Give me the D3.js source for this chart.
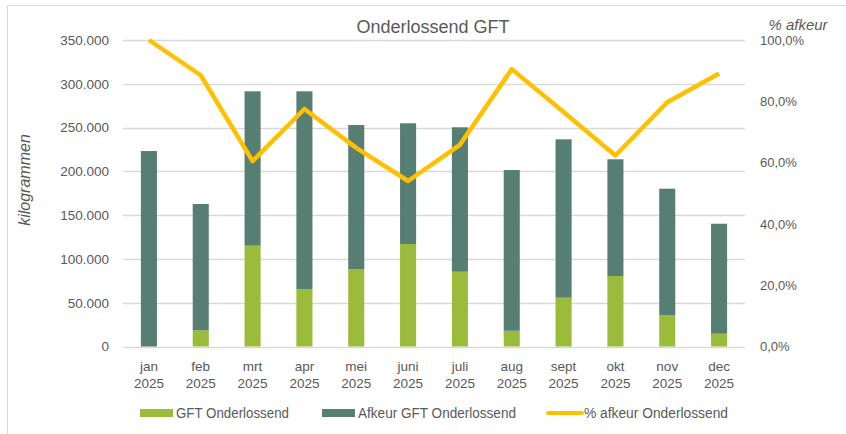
<!DOCTYPE html>
<html>
<head>
<meta charset="utf-8">
<script src="https://cdn.jsdelivr.net/npm/d3@7"></script>
<style>
  html, body { margin: 0; padding: 0; background: #fff; }
  svg { display: block; font-family: "Liberation Sans", "DejaVu Sans", sans-serif; }
</style>
</head>
<body>
<svg id="chart" width="846" height="434"></svg>
<script>
// Monthly data, 2025
const months = ["jan", "feb", "mrt", "apr", "mei", "juni", "juli", "aug", "sept", "okt", "nov", "dec"];
const year = "2025";
const gft = [0, 18500, 115100, 65700, 88500, 117000, 85400, 18000, 55700, 80500, 36000, 14600];
const afkeur = [223200, 144200, 176300, 225700, 164400, 137900, 164900, 183500, 180900, 133300, 144200, 125600];
const pctAfkeur = [1.0, 0.885, 0.605, 0.775, 0.648, 0.540, 0.658, 0.905, 0.765, 0.623, 0.797, 0.891];
const leftTicks = [0, 50000, 100000, 150000, 200000, 250000, 300000, 350000];
const rightTicks = [0, 0.2, 0.4, 0.6, 0.8, 1.0];

const colGft = "#9BBB3B";
const colAfkeur = "#577E72";
const colLine = "#FFC000";
const txt = "#595959";

const svg = d3.select("#chart");

// outer frame
svg.append("rect").attr("x", 7.5).attr("y", 5.5).attr("width", 860).attr("height", 460)
  .attr("fill", "none").attr("stroke", "#d9d9d9").attr("stroke-width", 1);

const plotLeft = 123, plotRight = 745, plotTop = 40, plotBottom = 346.5;

const x = d3.scaleBand().domain(months).range([plotLeft, plotRight]).paddingInner(0.69).paddingOuter(0.345);
const y = d3.scaleLinear().domain([0, 350000]).range([plotBottom, plotTop]);
const y2 = d3.scaleLinear().domain([0, 1]).range([plotBottom, plotTop]);

const fmtNum = v => d3.format(",")(v).replace(/,/g, ".");
const fmtPct = v => d3.format(".1f")(v * 100).replace(".", ",") + "%";

// gridlines
svg.append("g").selectAll("line").data(leftTicks).join("line")
  .attr("x1", plotLeft).attr("x2", plotRight)
  .attr("y1", d => Math.round(y(d)) + 0.5).attr("y2", d => Math.round(y(d)) + 0.5)
  .attr("stroke", "#d9d9d9").attr("stroke-width", 1.5);

// left axis
const gL = svg.append("g").attr("transform", `translate(${plotLeft - 14},0)`)
  .call(d3.axisLeft(y).tickValues(leftTicks).tickFormat(fmtNum).tickSize(0).tickPadding(0));
gL.select(".domain").remove();
gL.selectAll("text").attr("fill", txt).style("font-size", "13.5px");

// right axis
const gR = svg.append("g").attr("transform", `translate(${plotRight + 15},0)`)
  .call(d3.axisRight(y2).tickValues(rightTicks).tickFormat(fmtPct).tickSize(0).tickPadding(0));
gR.select(".domain").remove();
gR.selectAll("text").attr("fill", txt).style("font-size", "13px");

// stacked bars
const stackData = months.map((m, i) => ({ month: m, gft: gft[i], afkeur: afkeur[i] }));
const series = d3.stack().keys(["gft", "afkeur"])(stackData);
const colors = { gft: colGft, afkeur: colAfkeur };
svg.append("g").selectAll("g").data(series).join("g")
  .attr("fill", s => colors[s.key])
  .selectAll("rect").data(s => s).join("rect")
  .attr("x", d => x(d.data.month))
  .attr("width", x.bandwidth())
  .attr("y", d => y(d[1]))
  .attr("height", d => y(d[0]) - y(d[1]));

// percentage line
const line = d3.line().x((d, i) => x(months[i]) + x.bandwidth() / 2).y(d => y2(d));
svg.append("path").datum(pctAfkeur).attr("d", line)
  .attr("fill", "none").attr("stroke", colLine).attr("stroke-width", 4.5)
  .attr("stroke-linejoin", "round");

// category labels
const gx = svg.append("g");
months.forEach(m => {
  const cx = x(m) + x.bandwidth() / 2;
  gx.append("text").attr("x", cx).attr("y", 371).attr("text-anchor", "middle")
    .attr("fill", txt).style("font-size", "13.5px").text(m);
  gx.append("text").attr("x", cx).attr("y", 388).attr("text-anchor", "middle")
    .attr("fill", txt).style("font-size", "13.5px").text(year);
});

// title
svg.append("text").attr("x", 433).attr("y", 33).attr("text-anchor", "middle")
  .attr("fill", txt).style("font-size", "18px").text("Onderlossend GFT");

// axis titles
svg.append("text").attr("transform", "translate(30,180) rotate(-90)").attr("text-anchor", "middle")
  .attr("fill", txt).style("font-size", "16px").style("font-style", "italic").text("kilogrammen");
svg.append("text").attr("x", 798).attr("y", 30).attr("text-anchor", "middle")
  .attr("fill", txt).style("font-size", "15px").style("font-style", "italic").text("% afkeur");

// legend
const legend = [
  { label: "GFT Onderlossend", color: colGft, type: "rect", x: 140, w: 113 },
  { label: "Afkeur GFT Onderlossend", color: colAfkeur, type: "rect", x: 322, w: 158 },
  { label: "% afkeur Onderlossend", color: colLine, type: "line", x: 548, w: 144 }
];
const gLeg = svg.append("g");
legend.forEach(l => {
  if (l.type === "rect") {
    gLeg.append("rect").attr("x", l.x).attr("y", 409).attr("width", 33).attr("height", 8).attr("fill", l.color);
  } else {
    gLeg.append("line").attr("x1", l.x).attr("x2", l.x + 34).attr("y1", 413).attr("y2", 413)
      .attr("stroke", l.color).attr("stroke-width", 4).attr("stroke-linecap", "round");
  }
  gLeg.append("text").attr("x", l.x + (l.type === "rect" ? 36 : 36)).attr("y", 418)
    .attr("fill", txt).style("font-size", "14px")
    .attr("textLength", l.w).attr("lengthAdjust", "spacingAndGlyphs").text(l.label);
});
</script>
</body>
</html>
